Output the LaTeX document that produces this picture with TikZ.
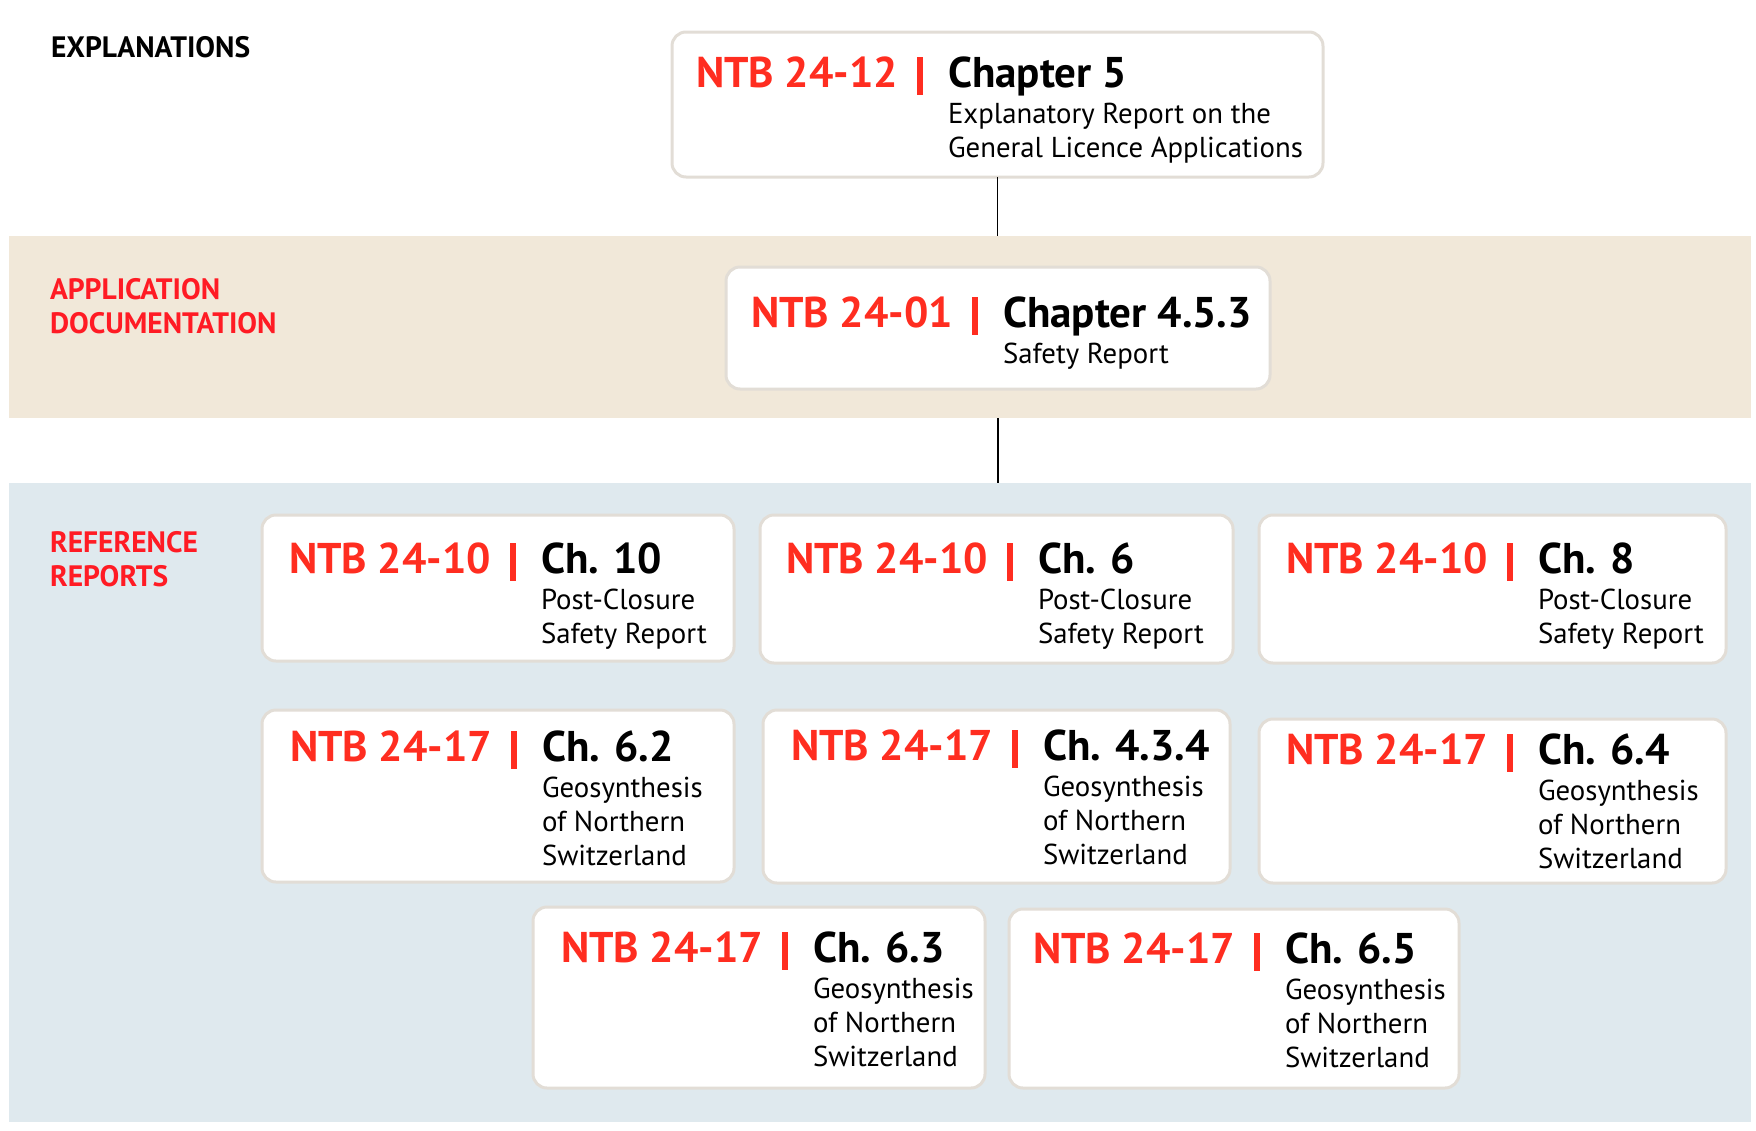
\documentclass[tikz,border=0pt]{standalone}
\usepackage{fontspec}
\setmainfont{PT Sans}
\usetikzlibrary{fit}
\definecolor{ntbred}{HTML}{FF2D20}
\definecolor{lblred}{HTML}{FF1B24}
\definecolor{tanc}{HTML}{F1E8D9}
\definecolor{bluec}{HTML}{DFE9EE}
\definecolor{boxline}{HTML}{E2DDD6}
\newcommand\bigfnt{\fontsize{43}{50}\selectfont\bfseries}
\newcommand\subfnt{\fontsize{28.8}{34}\selectfont}
\newcommand\lblfnt{\fontsize{29.5}{34}\selectfont\bfseries}
\tikzset{
  band/.style={draw=none, inner sep=0pt, outer sep=0pt},
  ntbframe/.style={draw=boxline, line width=3pt, fill=white, rounded corners=14pt, inner sep=0pt, outer sep=0pt},
  conn/.style={draw=black, line width=1.8pt},
  txt/.style={anchor=base west, inner sep=0pt, outer sep=0pt},
  lbl/.style={txt, font=\lblfnt},
}
\newcommand\ntbbox[5]{\node[ntbframe, fit={(#2,#3) (#4,#5)}] (#1) {};}
\newcommand\ntbtext[6]{%
  \node[txt, text=ntbred] (#1r) at (#2,#3) {\bigfnt\makebox[221.25pt][l]{#4}\rule[-8pt]{5.5pt}{38pt}};
  \node[txt] (#1c) at (#2+252,#3) {\subfnt\begin{tabular}[t]{@{}l@{}}{\bigfnt #5}\\[2pt] #6\end{tabular}};}
\begin{document}
\begin{tikzpicture}[x=1pt,y=-1pt]
\useasboundingbox (0,0) rectangle (1756,1130);
% bands
\node[band, fill=tanc, fit={(9,236) (1751,418)}] (tan) {};
\node[band, fill=bluec, fit={(9,483) (1751,1122)}] (blue) {};
% section labels
\node[lbl, text=black] (lexpl) at (51,57) {EXPLANATIONS};
\node[lbl, text=lblred] (lappl) at (50,299) {\begin{tabular}[t]{@{}l@{}}APPLICATION\\DOCUMENTATION\end{tabular}};
\node[lbl, text=lblred] (lref) at (50,552) {\begin{tabular}[t]{@{}l@{}}REFERENCE\\REPORTS\end{tabular}};
% boxes
\ntbbox{expl}{672}{32}{1323}{177}
\ntbbox{safety}{726}{267}{1270}{389}
\ntbbox{ba}{262}{515}{734}{661}
\ntbbox{bb}{760}{515}{1233}{663}
\ntbbox{bc}{1259}{515}{1726}{663}
\ntbbox{bd}{262}{710}{734}{882}
\ntbbox{be}{763}{710}{1230}{883}
\ntbbox{bf}{1259}{719}{1726}{883}
\ntbbox{bg}{533}{907}{985}{1088}
\ntbbox{bh}{1009}{909}{1459}{1088}
% connectors
\draw[conn] (expl.south) -- (expl.south |- tan.north);
\draw[conn] (safety.south |- tan.south) -- (safety.south |- blue.north);
% texts
\ntbtext{expl}{696}{87}{NTB 24-12}{Chapter 5}{Explanatory Report on the\\General Licence Applications}
\ntbtext{safety}{751}{327}{NTB 24-01}{Chapter 4.5.3}{Safety Report}
\ntbtext{ba}{289}{573}{NTB 24-10}{Ch. 10}{Post-Closure\\Safety Report}
\ntbtext{bb}{786}{573}{NTB 24-10}{Ch. 6}{Post-Closure\\Safety Report}
\ntbtext{bc}{1286}{573}{NTB 24-10}{Ch. 8}{Post-Closure\\Safety Report}
\ntbtext{bd}{290}{761}{NTB 24-17}{Ch. 6.2}{Geosynthesis\\of Northern\\Switzerland}
\ntbtext{be}{791}{760}{NTB 24-17}{Ch. 4.3.4}{Geosynthesis\\of Northern\\Switzerland}
\ntbtext{bf}{1286}{764}{NTB 24-17}{Ch. 6.4}{Geosynthesis\\of Northern\\Switzerland}
\ntbtext{bg}{561}{962}{NTB 24-17}{Ch. 6.3}{Geosynthesis\\of Northern\\Switzerland}
\ntbtext{bh}{1033}{963}{NTB 24-17}{Ch. 6.5}{Geosynthesis\\of Northern\\Switzerland}
\end{tikzpicture}
\end{document}
